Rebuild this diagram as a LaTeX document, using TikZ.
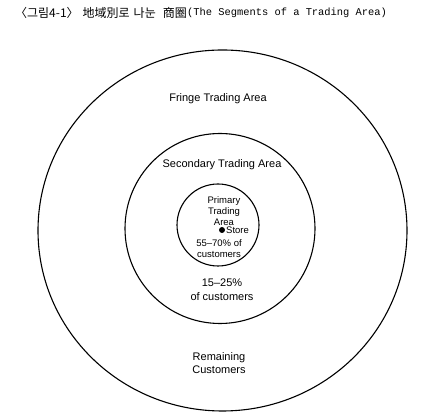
\documentclass[tikz,border=0pt]{standalone}
\usepackage{fontspec}
\setmainfont{Liberation Sans}
\newfontfamily\krfont{Noto Sans CJK KR}
\newfontfamily\monofont{Liberation Mono}
\begin{document}
\begin{tikzpicture}[x=1pt,y=1pt,
  ring/.style={draw=black,line width=1.1pt},
  lbl/.style={align=center,inner sep=0pt,font=\fontsize{11}{13}\selectfont},
  small/.style={align=center,inner sep=0pt,font=\fontsize{9.5}{11}\selectfont}]
\useasboundingbox[fill=white] (0,0) rectangle (424,420);
\node[anchor=east,inner sep=0pt] (title) at (187,407)
  {\krfont\fontsize{12}{13}\selectfont 〈그림4-1〉\hspace{4pt}地域別로\hspace{4pt}나눈\hspace{7pt}商圈};
\node[anchor=west,inner sep=0pt] (titlelat) at (187,407)
  {\monofont\fontsize{10.4}{13}\selectfont(The Segments of a Trading Area)};
\draw[ring] (222.5,189.5) ellipse [x radius=184.5,y radius=180.5];
\draw[ring] (220,191.5) circle [radius=95];
\draw[ring] (218,195) circle [radius=41];
\node[lbl] (fringe) at (218,321) {Fringe Trading Area};
\node[lbl] (second) at (222,255) {Secondary Trading Area};
\node[small] (primary) at (224,209) {Primary\\Trading\\Area};
\node[circle,fill=black,inner sep=0pt,minimum size=6pt] (store) at (222,190) {};
\node[small,anchor=west] (storetxt) at (226,190) {Store};
\node[small] (pct1) at (219,171.5) {55–70\% of\\customers};
\node[lbl,font=\fontsize{11}{14}\selectfont] (pct2) at (222,130) {15–25\%\\of customers};
\node[lbl] (remain) at (219,56.5) {Remaining\\Customers};
\end{tikzpicture}
\end{document}
